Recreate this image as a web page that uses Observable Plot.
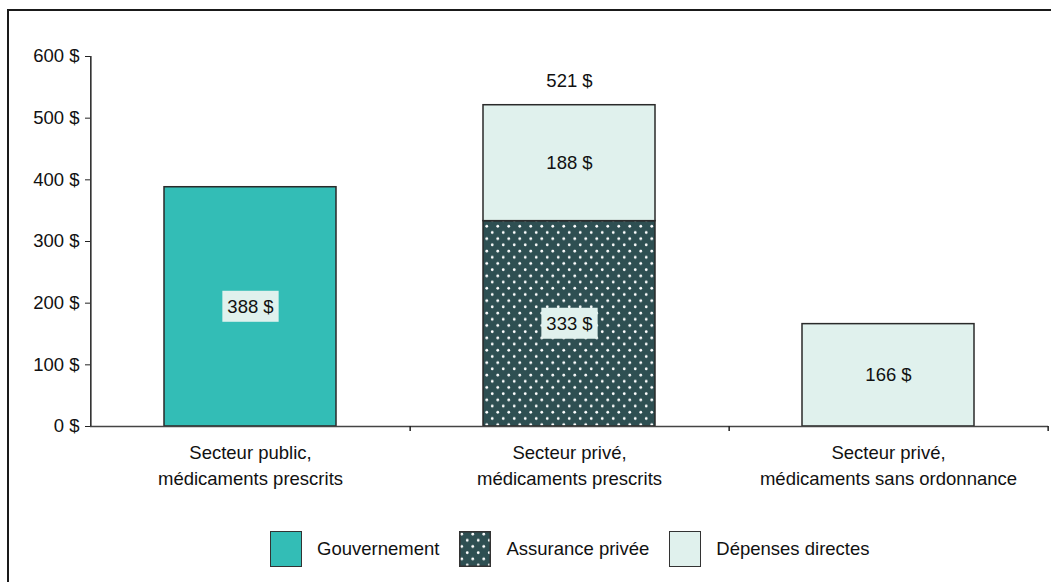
<!DOCTYPE html>
<html>
<head>
<meta charset="utf-8">
<script src="https://cdn.jsdelivr.net/npm/d3@7"></script>
<script src="https://cdn.jsdelivr.net/npm/@observablehq/plot@0.6"></script>
<style>
  body { margin: 0; background: #fff; font-family: "Liberation Sans", Arial, sans-serif; }
  #wrap { position: relative; width: 1051px; height: 582px; overflow: hidden; background: #fff; }
  #frame { position: absolute; left: 7px; top: 9px; width: 1200px; height: 800px;
           border-left: 2px solid #1a1a1a; border-top: 2px solid #1a1a1a; pointer-events: none; }
  #chart { position: absolute; left: 0; top: 0; }
  #legend { position: absolute; left: 270px; top: 531px; display: flex; align-items: center;
            font-size: 18.5px; color: #111; }
  #legend .sw { display: block; width: 32px; height: 36px; box-sizing: border-box; border: 1.5px solid #333; }
  #legend .lt { margin-left: 15px; margin-right: 20px; white-space: nowrap; }
</style>
</head>
<body>
<div id="wrap">
  <div id="frame"></div>
  <div id="chart"></div>
  <div id="legend"></div>
</div>
<script>
// ---- data ----
const categories = [
  "Secteur public,\nmédicaments prescrits",
  "Secteur privé,\nmédicaments prescrits",
  "Secteur privé,\nmédicaments sans ordonnance"
];
const series = ["Gouvernement", "Assurance privée", "Dépenses directes"];
const seriesColors = ["#33bdb6", "url(#dots)", "#e0f1ed"];
const barCategory = [categories[0], categories[1], categories[1], categories[2]];
const barSeries = [series[0], series[1], series[2], series[2]];
const barValues = [388, 333, 188, 166];
const totalCategory = [categories[1]];
const totalValues = [521];
const yTicks = [0, 100, 200, 300, 400, 500, 600];

const data = barValues.map((v, i) => ({category: barCategory[i], series: barSeries[i], value: v}));
const totals = totalValues.map((v, i) => ({category: totalCategory[i], value: v}));
const fmt = v => v + " $";

const W = 1051, ML = 90, MR = 3;
const halfStep = (W - ML - MR) / categories.length / 2;

const plot = Plot.plot({
  width: W,
  height: 520,
  marginLeft: ML,
  marginRight: MR,
  marginTop: 56,
  marginBottom: 94,
  style: {fontFamily: "'Liberation Sans', Arial, sans-serif", fontSize: "18.5px", color: "#111", background: "transparent", overflow: "visible"},
  x: {domain: categories, paddingInner: 0.46, paddingOuter: 0.23, label: null},
  y: {domain: [0, 600], label: null},
  color: {domain: series, range: seriesColors},
  marks: [
    Plot.barY(data, {x: "category", y: "value", fill: "series", z: "series", stroke: "#2a2a2a", strokeWidth: 1.5}),
    Plot.ruleY([0], {stroke: "#444", strokeWidth: 1.5}),
    Plot.ruleX([categories[0]], {x: d => d, y1: 0, y2: 600, dx: -halfStep, stroke: "#222", strokeWidth: 1.5}),
    Plot.ruleX(categories, {x: d => d, y1: 0, y2: -8, dx: halfStep, stroke: "#222", strokeWidth: 1.5}),
    Plot.axisY({ticks: yTicks, tickFormat: fmt, tickSize: 5, tickPadding: 6, stroke: "#222"}),
    Plot.axisX({tickSize: 0, tickPadding: 14, lineHeight: 1.4}),
    Plot.text(data, Plot.stackY({x: "category", y: "value", z: "series", text: d => fmt(d.value), fill: "#111"})),
    Plot.text(totals, {x: "category", y: "value", text: d => fmt(d.value), dy: -24, fill: "#111"})
  ]
});

document.getElementById("chart").appendChild(plot);
const ns = "http://www.w3.org/2000/svg";
const svg = plot.tagName.toLowerCase() === "svg" ? plot : plot.querySelector("svg");

function makePattern(id) {
  const p = document.createElementNS(ns, "pattern");
  p.setAttribute("id", id);
  p.setAttribute("patternUnits", "userSpaceOnUse");
  p.setAttribute("width", "11");
  p.setAttribute("height", "12.4");
  const bg = document.createElementNS(ns, "rect");
  bg.setAttribute("width", "11"); bg.setAttribute("height", "12.4"); bg.setAttribute("fill", "#2e4f52");
  p.appendChild(bg);
  [[2.75, 3.1], [8.25, 9.3]].forEach(([cx, cy]) => {
    const c = document.createElementNS(ns, "circle");
    c.setAttribute("cx", cx); c.setAttribute("cy", cy); c.setAttribute("r", "1.4"); c.setAttribute("fill", "#fff");
    p.appendChild(c);
  });
  return p;
}
const defs = document.createElementNS(ns, "defs");
defs.appendChild(makePattern("dots"));
svg.insertBefore(defs, svg.firstChild);

// light boxes behind the segment value labels
const segLabels = new Set(barValues.map(fmt));
Array.from(svg.querySelectorAll("text")).forEach(t => {
  if (!segLabels.has(t.textContent.trim())) return;
  const bb = t.getBBox();
  const r = document.createElementNS(ns, "rect");
  r.setAttribute("x", bb.x - 5);
  r.setAttribute("y", bb.y - 5);
  r.setAttribute("width", bb.width + 10);
  r.setAttribute("height", bb.height + 10);
  r.setAttribute("fill", "#e0f1ed");
  if (t.getAttribute("transform")) r.setAttribute("transform", t.getAttribute("transform"));
  t.parentNode.insertBefore(r, t);
});

// legend
const legend = document.getElementById("legend");
series.forEach((s, i) => {
  let sw;
  if (seriesColors[i].startsWith("url")) {
    sw = document.createElementNS(ns, "svg");
    sw.setAttribute("width", "32"); sw.setAttribute("height", "36");
    sw.style.display = "block";
    const d = document.createElementNS(ns, "defs");
    d.appendChild(makePattern("dotsLegend"));
    sw.appendChild(d);
    const r = document.createElementNS(ns, "rect");
    r.setAttribute("x", "0.75"); r.setAttribute("y", "0.75");
    r.setAttribute("width", "30.5"); r.setAttribute("height", "34.5");
    r.setAttribute("fill", "url(#dotsLegend)"); r.setAttribute("stroke", "#333"); r.setAttribute("stroke-width", "1.5");
    sw.appendChild(r);
  } else {
    sw = document.createElement("span");
    sw.className = "sw";
    sw.style.background = seriesColors[i];
  }
  legend.appendChild(sw);
  const lt = document.createElement("span");
  lt.className = "lt";
  lt.textContent = s;
  legend.appendChild(lt);
});
</script>
</body>
</html>
